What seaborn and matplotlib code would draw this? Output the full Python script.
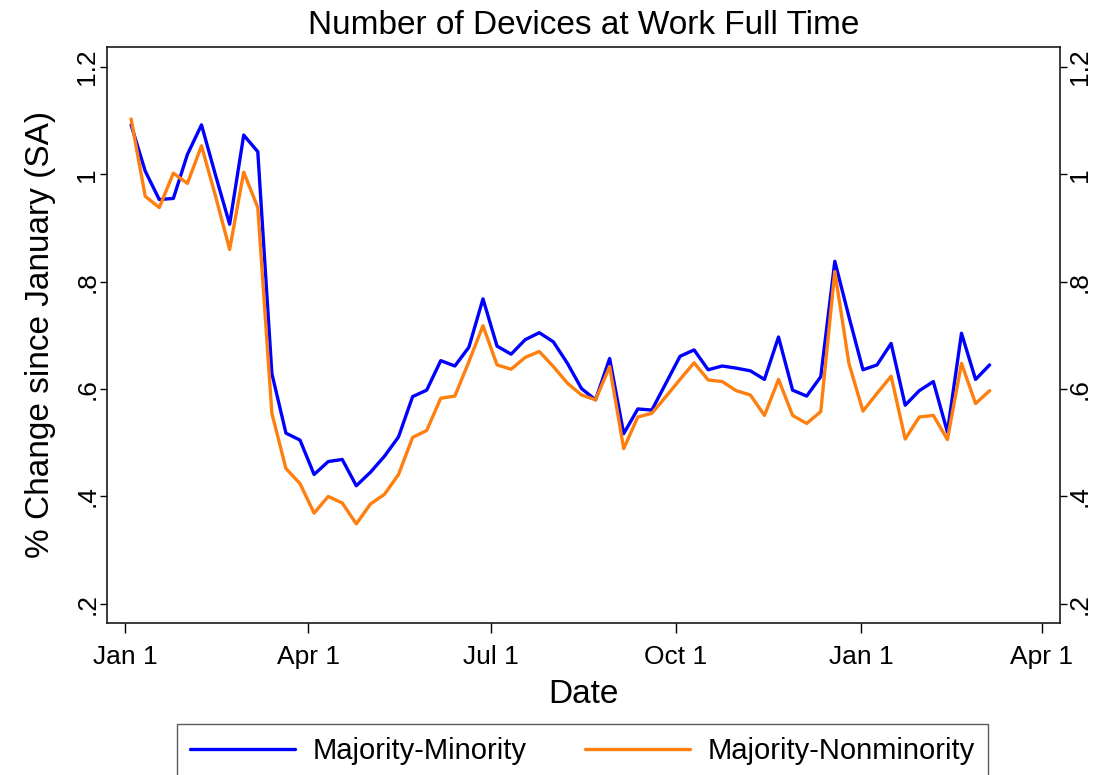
import numpy as np
import pandas as pd
import matplotlib
matplotlib.use('Agg')
import matplotlib.pyplot as plt
from matplotlib.lines import Line2D
import seaborn as sns


# ========== Data ==========

dates = pd.date_range('2020-01-04', periods=62, freq='7D')

majority_minority = [
    1.092, 1.006, 0.953, 0.955, 1.037, 1.092, 0.998, 0.907, 1.073, 1.042,
    0.629, 0.518, 0.505, 0.441, 0.465, 0.469, 0.420, 0.445, 0.475, 0.511,
    0.586, 0.598, 0.653, 0.643, 0.678, 0.768, 0.680, 0.665, 0.692, 0.705,
    0.688, 0.648, 0.601, 0.580, 0.657, 0.517, 0.563, 0.561, 0.611, 0.661,
    0.673, 0.636, 0.643, 0.639, 0.634, 0.618, 0.697, 0.598, 0.587, 0.623,
    0.838, 0.735, 0.636, 0.645, 0.685, 0.570, 0.597, 0.614, 0.520, 0.704,
    0.618, 0.645]

majority_nonminority = [
    1.103, 0.959, 0.938, 1.002, 0.983, 1.053, 0.959, 0.860, 1.004, 0.938,
    0.555, 0.452, 0.424, 0.369, 0.400, 0.388, 0.349, 0.386, 0.404, 0.441,
    0.510, 0.523, 0.583, 0.587, 0.651, 0.718, 0.645, 0.637, 0.659, 0.670,
    0.642, 0.611, 0.589, 0.580, 0.642, 0.489, 0.548, 0.555, 0.586, 0.618,
    0.649, 0.617, 0.614, 0.597, 0.589, 0.551, 0.618, 0.551, 0.536, 0.558,
    0.819, 0.648, 0.559, 0.592, 0.624, 0.507, 0.548, 0.551, 0.506, 0.648,
    0.573, 0.597]

series_names = ['Majority-Minority', 'Majority-Nonminority']
series_colors = ['#0000ff', '#ff7f0e']

xtick_dates = pd.to_datetime(['2020-01-01', '2020-04-01', '2020-07-01',
                              '2020-10-01', '2021-01-01', '2021-04-01'])
xtick_labels = ['Jan 1', 'Apr 1', 'Jul 1', 'Oct 1', 'Jan 1', 'Apr 1']
ytick_values = [0.2, 0.4, 0.6, 0.8, 1.0, 1.2]
ytick_labels = ['.2', '.4', '.6', '.8', '1', '1.2']


# ========== Plot ==========

df = pd.DataFrame({
    'date': np.concatenate([dates, dates]),
    'value': majority_minority + majority_nonminority,
    'group': [series_names[0]] * len(dates) + [series_names[1]] * len(dates),
})

sns.set_style('ticks')
plt.rcParams['font.family'] = ['Liberation Sans', 'DejaVu Sans']
plt.rcParams['text.color'] = 'black'
plt.rcParams['axes.labelcolor'] = 'black'

fig = plt.figure(figsize=(11.04, 7.75), dpi=100)
ax = fig.add_axes([107 / 1104, 1 - 622.7 / 775, (1060 - 107) / 1104, (622.7 - 47) / 775])

sns.lineplot(data=df, x='date', y='value', hue='group', palette=series_colors,
             linewidth=2.4, legend=False, ax=ax)

ax.set_xlim(pd.Timestamp('2019-12-23'), pd.Timestamp('2021-04-10'))
ax.set_ylim(0.165, 1.237)

ax.set_xticks(xtick_dates)
ax.set_xticklabels(xtick_labels)
ax.set_yticks(ytick_values)
ax.set_yticklabels(ytick_labels)

ax.tick_params(axis='both', direction='out', length=7, width=1, colors='black',
               labelsize=19)
ax.tick_params(axis='x', pad=9)
ax.tick_params(axis='y', right=True, labelright=True, labelrotation=90,
               length=5, pad=0.5)
for lab in ax.get_yticklabels():
    lab.set_verticalalignment('center')

for sp in ax.spines.values():
    sp.set_visible(True)
    sp.set_color('#1a1a1a')
    sp.set_linewidth(1.2)

ax.set_title('Number of Devices at Work Full Time', fontsize=24, pad=9)
ax.set_xlabel('Date', fontsize=24, labelpad=7)
ax.set_ylabel('% Change since January (SA)', fontsize=24, labelpad=14)

handles = [Line2D([0], [0], color=c, lw=2.4) for c in series_colors]
leg = fig.legend(handles, series_names, loc='upper center',
                 bbox_to_anchor=(582.5 / 1104, 1 - 724 / 775), ncol=2,
                 fontsize=21, frameon=True, fancybox=False,
                 handlelength=3.6, handletextpad=0.6, columnspacing=2.0,
                 borderpad=0.45, borderaxespad=0)
leg.get_frame().set_edgecolor('#333333')
leg.get_frame().set_linewidth(1.0)

fig.savefig('out.png', dpi=100)
